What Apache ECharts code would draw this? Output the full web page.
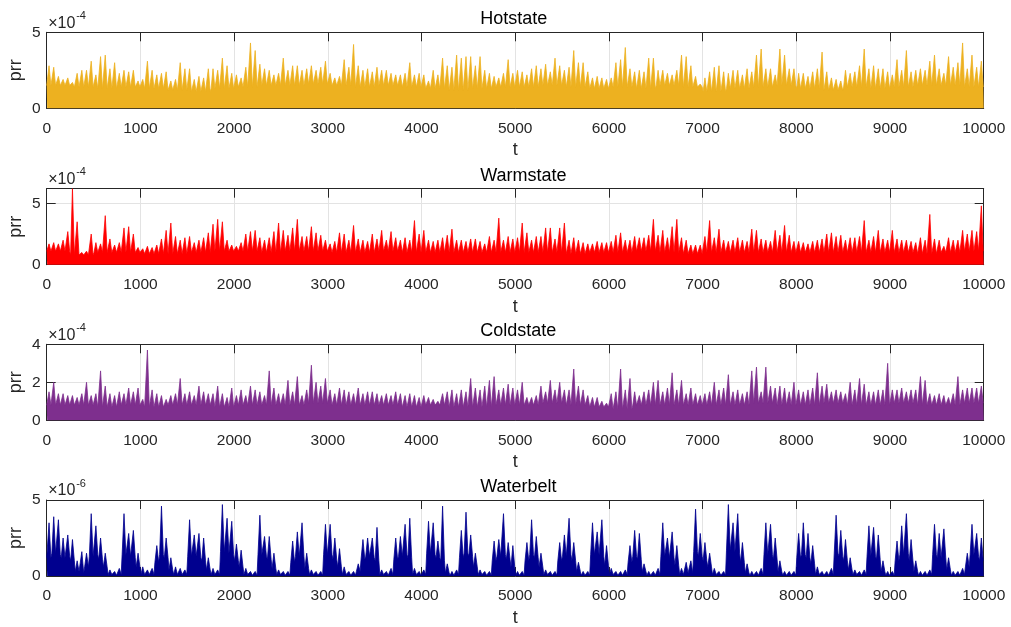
<!DOCTYPE html>
<html>
<head>
<meta charset="utf-8">
<title>prr over t</title>
<script src="https://cdn.jsdelivr.net/npm/echarts@6/dist/echarts.min.js"></script>
<style>
  html, body { margin: 0; padding: 0; background: #fff; }
  #chart { width: 1011px; height: 627px; }
</style>
</head>
<body>
<div id="chart"></div>
<script>
// ---- data: per-50-step peak of prr, and the dense body level underneath ----
const binWidth = 50;            // t units per peak bin
const tMin = 0, tMax = 10000, tStep = 1000;

const panelNames = ['Hotstate', 'Warmstate', 'Coldstate', 'Waterbelt'];
const panelExponents = ['-4', '-4', '-4', '-6'];
const yMaxes = [5, 6.2, 4, 5];
const ySteps = [5, 5, 2, 5];
const lineColors = ['#EDB120', '#FF0000', '#7E2F8E', '#00008F'];

// Hotstate (x 1e-4)
const hotPeaks = [
  2.8,2.7,2.1,1.9,2.0,1.7,2.3,2.5,2.5,3.1, 2.2,3.4,3.5,2.6,3.0,2.3,2.5,2.4,2.5,1.8,
  1.9,3.1,2.5,2.2,2.3,2.4,1.8,1.9,3.0,2.6, 2.6,1.9,2.1,2.0,2.6,2.6,2.5,3.3,2.8,2.3,
  2.2,2.0,2.7,4.3,3.8,2.9,2.6,2.5,2.2,2.3, 3.3,2.5,2.8,2.8,2.5,2.6,2.8,2.5,2.7,3.1,
  2.3,2.0,2.1,3.2,2.7,4.2,2.8,2.5,2.6,2.4, 2.7,2.5,2.5,2.3,2.2,2.2,2.3,3.0,2.2,2.3,
  2.2,1.8,2.5,2.2,3.3,2.8,2.7,3.5,3.3,3.4, 3.4,2.8,3.4,2.5,2.3,2.1,2.0,2.3,3.2,2.3,
  2.5,2.4,2.2,2.6,2.8,2.6,2.9,2.4,3.3,2.8, 2.5,2.7,3.8,3.0,3.0,2.4,2.0,2.1,2.0,1.9,
  2.0,3.0,3.2,4.0,2.6,2.4,2.5,2.4,3.3,3.3, 2.5,2.5,2.3,2.2,2.5,3.5,3.4,2.8,2.1,1.6,
  2.0,2.4,2.7,2.8,2.4,2.3,2.5,2.5,2.2,2.6, 2.4,3.5,3.9,2.6,2.6,2.2,3.9,3.5,2.6,2.6,
  2.3,2.3,2.1,2.4,2.6,3.7,2.4,2.0,1.9,1.8, 2.5,2.3,2.4,2.8,3.9,2.6,2.8,2.6,2.6,2.4,
  2.2,3.2,2.5,3.8,2.4,2.5,2.6,2.5,3.1,3.5, 2.6,2.3,3.4,2.7,3.0,4.3,2.6,3.5,2.7,3.1
];
const hotCore = [
  1.5,1.4,1.3,1.4,1.3,1.2,1.1,1.3,1.4,1.5, 1.5,1.6,1.5,1.4,1.5,1.4,1.3,1.2,1.3,1.4,
  1.4,1.5,1.4,1.3,1.4,1.3,1.5,1.4,1.1,1.3, 1.4,1.5,1.3,1.2,1.4,1.3,1.4,1.5,1.5,1.4
];

// Warmstate (x 1e-4)
const warmPeaks = [
  1.7,1.8,1.7,2.0,2.7,6.2,3.5,1.0,1.1,2.5, 1.8,1.7,4.0,2.1,1.6,1.8,3.0,3.1,2.5,1.4,
  1.3,1.5,1.4,1.6,2.1,2.8,3.4,2.3,2.0,2.2, 2.3,1.8,2.0,2.2,2.6,3.3,3.7,3.5,2.0,1.6,
  1.5,1.8,2.5,2.7,2.8,2.2,2.0,2.2,2.7,3.4, 2.8,2.4,3.0,3.7,2.3,2.3,3.1,2.6,2.4,2.0,
  1.7,1.9,2.6,2.5,2.0,3.2,2.1,2.0,1.9,2.5, 2.1,2.8,2.0,2.7,2.2,2.0,2.2,2.0,3.6,2.5,
  2.8,2.0,1.9,2.0,2.2,2.4,2.9,2.0,2.0,1.9, 2.1,2.1,1.9,1.7,2.3,2.0,3.8,2.0,2.3,2.1,
  2.2,3.4,2.6,2.0,2.3,2.3,3.0,3.0,2.1,3.0, 3.4,2.0,2.2,2.0,1.8,1.7,1.7,1.9,1.8,1.8,
  1.9,2.4,2.6,2.0,2.0,2.3,2.2,2.2,2.4,3.7, 2.4,2.8,2.2,3.1,3.7,2.2,2.0,1.6,1.6,1.6,
  2.3,3.6,2.2,2.9,2.0,1.9,2.0,2.2,2.0,1.9, 2.9,2.8,2.1,2.0,1.9,2.8,2.4,3.2,2.4,1.9,
  1.9,1.8,1.7,1.9,2.0,2.1,2.5,2.6,2.3,2.4, 2.0,2.2,2.2,2.3,3.6,2.0,2.3,2.8,2.1,2.0,
  2.8,2.1,2.0,2.0,1.9,1.8,2.2,2.0,4.1,2.1, 2.0,1.5,2.2,2.0,2.0,2.8,2.5,2.8,2.7,4.8
];
const warmCore = [
  1.1,0.8,1.0,1.0,0.9,0.9,1.0,1.1,1.1,1.0, 1.1,1.1,1.0,1.0,1.1,1.0,1.0,1.0,1.0,1.0,
  1.0,1.0,0.9,1.0,1.0,1.1,1.0,0.9,1.0,1.0, 1.0,1.0,1.0,1.0,1.0,1.0,1.0,0.9,1.0,1.1
];

// Coldstate (x 1e-4)
const coldPeaks = [
  1.5,2.0,1.4,1.4,1.3,1.3,1.2,1.4,2.0,1.3, 1.4,2.6,1.8,1.4,1.3,1.5,1.4,1.7,1.5,1.7,
  1.1,3.7,1.6,1.4,1.3,1.1,1.3,1.4,2.2,1.4, 1.5,1.3,1.8,1.5,1.4,1.4,1.8,1.4,1.2,1.7,
  1.3,1.6,1.3,1.8,1.6,1.5,1.3,2.6,1.7,1.4, 1.4,2.1,1.5,2.3,1.3,1.6,2.9,2.0,1.8,2.2,
  1.6,1.4,1.7,1.6,1.5,1.4,1.7,1.4,1.5,1.5, 1.4,1.3,1.4,1.3,1.5,1.4,1.3,1.4,1.3,1.2,
  1.3,1.2,1.1,1.0,1.4,1.5,1.6,1.4,1.6,1.5, 2.2,1.7,1.6,1.8,2.1,2.3,1.6,1.7,1.9,1.7,
  1.6,2.0,1.2,1.2,1.3,1.8,1.5,2.1,1.6,2.0, 1.6,1.6,2.7,1.8,1.6,1.3,1.2,1.2,1.0,0.9,
  1.4,1.5,2.7,1.6,2.2,1.5,1.3,1.5,1.6,2.0, 2.1,1.5,1.7,2.5,1.6,2.1,1.4,1.7,1.4,1.3,
  1.4,1.5,2.0,1.6,1.7,2.4,1.5,1.6,1.4,1.5, 2.6,2.8,1.5,2.8,1.8,1.7,1.8,1.7,1.5,2.0,
  1.6,1.5,1.6,1.7,2.5,1.8,1.9,1.5,1.6,1.5, 1.4,2.0,1.6,2.2,1.9,1.5,1.5,1.6,1.6,3.0,
  1.6,1.6,1.7,1.5,1.6,1.6,2.3,2.1,1.4,1.3, 1.4,1.3,1.2,1.4,2.3,1.6,1.7,1.7,1.7,1.8
];
const coldCore = [
  0.8,0.8,0.7,0.8,0.7,0.8,0.8,0.7,0.8,0.8, 0.8,0.9,0.8,0.8,0.8,0.7,0.8,0.7,0.7,0.8,
  0.8,0.9,0.8,0.7,0.6,0.8,0.8,0.8,0.8,0.8, 0.9,0.8,0.8,0.9,0.8,0.8,0.9,0.8,0.8,0.9
];

// Waterbelt (x 1e-6)
const waterPeaks = [
  3.5,3.9,3.7,2.5,2.7,2.4,1.0,1.6,1.5,4.1, 3.3,2.5,1.5,0.4,0.3,0.5,4.1,2.8,3.0,1.5,
  0.6,0.4,0.5,2.0,4.6,2.5,1.2,0.6,0.5,0.4, 3.7,2.7,2.8,2.5,1.2,0.5,0.4,4.7,3.8,3.6,
  2.1,1.7,0.5,0.3,0.3,4.0,2.6,2.6,1.5,0.4, 0.3,0.3,2.3,2.9,3.5,1.5,0.4,0.3,0.3,3.4,
  3.4,2.5,1.8,0.6,0.3,0.3,0.8,2.4,2.5,2.5, 3.2,0.4,0.3,0.5,2.5,2.6,3.4,3.8,0.5,0.3,
  0.4,3.6,3.5,2.3,4.6,0.8,0.3,0.4,3.0,4.2, 2.7,1.5,0.4,0.3,0.3,2.3,2.4,4.1,2.2,2.0,
  0.3,0.3,2.2,3.7,2.6,1.5,0.4,0.3,0.3,2.2, 2.7,3.8,2.2,0.9,0.3,0.3,3.5,2.9,3.7,2.0,
  0.5,0.3,0.3,0.4,2.0,3.0,2.8,0.8,0.3,0.3, 0.5,3.5,2.5,2.9,2.0,0.5,0.9,1.0,4.4,2.8,
  2.2,1.5,0.5,0.3,0.3,4.7,3.5,4.1,2.2,0.8, 0.3,0.3,0.5,3.5,3.4,2.5,1.0,0.3,0.3,0.3,
  2.8,3.5,2.8,2.0,0.6,0.3,0.3,0.5,4.0,3.0, 2.4,1.2,0.4,0.3,0.4,3.3,3.2,2.7,1.0,0.3,
  0.3,2.3,3.3,4.1,2.4,1.0,0.3,0.3,0.4,3.4, 2.8,3.1,1.2,0.3,0.3,0.5,1.5,3.4,2.8,2.5
];
const waterCore = [
  1.2,1.5,1.4,1.2,1.3,1.0,0.3,0.2,0.6,1.3, 1.4,1.1,0.6,0.1,0.05,0.1,1.4,1.3,1.2,0.6,
  0.1,0.1,0.1,0.9,1.4,1.2,0.4,0.1,0.1,0.1, 1.3,1.3,1.2,1.0,0.4,0.1,0.1,1.6,1.5,1.4,
  1.0,0.6,0.1,0.05,0.05,1.4,1.3,1.1,0.5,0.1, 0.05,0.05,0.9,1.3,1.3,0.5,0.1,0.05,0.05,1.4,
  1.4,1.1,0.6,0.1,0.05,0.05,0.3,1.1,1.3,1.2, 1.0,0.1,0.05,0.1,1.1,1.3,1.4,1.2,0.1,0.05,
  0.1,1.5,1.4,1.2,1.0,0.2,0.05,0.1,1.2,1.5, 1.3,0.6,0.1,0.05,0.05,1.0,1.3,1.4,1.1,0.6,
  0.05,0.05,1.0,1.4,1.2,0.6,0.1,0.05,0.05,1.0, 1.3,1.4,1.0,0.3,0.05,0.05,1.4,1.4,1.3,0.7,
  0.1,0.05,0.05,0.1,0.9,1.3,1.1,0.3,0.05,0.05, 0.1,1.3,1.2,1.2,0.7,0.1,0.2,0.2,1.6,1.3,
  1.0,0.6,0.1,0.05,0.05,1.7,1.6,1.5,0.9,0.2, 0.05,0.05,0.1,1.4,1.4,1.1,0.3,0.05,0.05,0.05,
  1.2,1.4,1.2,0.8,0.1,0.05,0.05,0.1,1.5,1.3, 1.0,0.4,0.1,0.05,0.1,1.3,1.3,1.1,0.3,0.05,
  0.05,1.0,1.4,1.5,1.0,0.3,0.05,0.05,0.1,1.4, 1.2,1.2,0.4,0.05,0.05,0.1,0.6,1.4,1.3,1.0
];

const panelPeaks = [hotPeaks, warmPeaks, coldPeaks, waterPeaks];
const panelCores = [hotCore, warmCore, coldCore, waterCore];

// ---- layout ----
const plotLeft = 46.7, plotWidth = 937, plotHeight = 76;
const plotTops = [32.3, 188.7, 344.3, 500];
const spikeHalf = 20;           // half base of each peak, in t units
const font = "'Liberation Sans', Arial, Helvetica, sans-serif";
const ink = '#262626';
const gridInk = '#e3e3e3';

// Turn a peak list plus its body levels into the outline of the trace.
function buildTrace(peaks, core) {
  const ratio = peaks.length / core.length;
  const pts = [[tMin, core[0]]];
  for (let i = 0; i < peaks.length; i++) {
    const c = core[Math.floor(i / ratio)];
    const t = i * binWidth + binWidth / 2;
    pts.push([t - spikeHalf, c], [t, peaks[i]], [t + spikeHalf, c]);
  }
  pts.push([tMax, core[core.length - 1]]);
  return pts;
}

const grids = [], xAxes = [], yAxes = [], series = [], graphics = [];

plotTops.forEach((top, p) => {
  grids.push({
    left: plotLeft, top: top, width: plotWidth, height: plotHeight,
    containLabel: false, outerBoundsMode: 'none'
  });

  // bottom axis with labels and grid, top axis as the box edge with ticks
  xAxes.push({
    type: 'value', gridIndex: p, min: tMin, max: tMax, interval: tStep, position: 'bottom',
    name: 't', nameLocation: 'middle', nameGap: 33, nameMoveOverlap: false,
    nameTextStyle: { fontFamily: font, fontSize: 18, color: ink },
    axisLine: { show: true, onZero: false, lineStyle: { color: ink, width: 1 } },
    axisTick: { show: true, inside: true, length: 9, lineStyle: { color: ink } },
    axisLabel: { show: true, margin: 12, fontFamily: font, fontSize: 15.5, color: ink, hideOverlap: false,
                 formatter: v => String(v) },
    splitLine: { show: true, lineStyle: { color: gridInk, width: 1 } }
  });
  xAxes.push({
    type: 'value', gridIndex: p, min: tMin, max: tMax, interval: tStep, position: 'top',
    axisLine: { show: true, onZero: false, lineStyle: { color: ink, width: 1 } },
    axisTick: { show: true, inside: true, length: 9, lineStyle: { color: ink } },
    axisLabel: { show: false }, splitLine: { show: false }
  });

  const labelOnStep = v => (Math.abs(v / ySteps[p] - Math.round(v / ySteps[p])) < 1e-9 ? String(v) : '');
  yAxes.push({
    type: 'value', gridIndex: p, min: 0, max: yMaxes[p], interval: ySteps[p], position: 'left',
    name: 'prr', nameLocation: 'middle', nameGap: 22, nameRotate: 90, nameMoveOverlap: false,
    nameTextStyle: { fontFamily: font, fontSize: 18, color: ink },
    axisLine: { show: true, onZero: false, lineStyle: { color: ink, width: 1 } },
    axisTick: { show: true, inside: true, length: 9, lineStyle: { color: ink } },
    axisLabel: { show: true, margin: 6, fontFamily: font, fontSize: 15.5, color: ink, formatter: labelOnStep },
    splitLine: { show: true, lineStyle: { color: gridInk, width: 1 } }
  });
  yAxes.push({
    type: 'value', gridIndex: p, min: 0, max: yMaxes[p], interval: ySteps[p], position: 'right',
    axisLine: { show: true, onZero: false, lineStyle: { color: ink, width: 1 } },
    axisTick: { show: true, inside: true, length: 9, lineStyle: { color: ink } },
    axisLabel: { show: false }, splitLine: { show: false }
  });

  series.push({
    type: 'line', xAxisIndex: 2 * p, yAxisIndex: 2 * p,
    data: buildTrace(panelPeaks[p], panelCores[p]),
    showSymbol: false, symbol: 'none', smooth: false, silent: true,
    lineStyle: { color: lineColors[p], width: 0.8 },
    areaStyle: { color: lineColors[p], opacity: 1, origin: 'start' },
    z: 3
  });

  // panel title
  graphics.push({
    type: 'text', left: plotLeft + plotWidth / 2 - 35, top: top - 22,
    style: { text: panelNames[p], font: '18px ' + font, fill: '#000' }
  });
  // exponent of the y scale
  graphics.push({
    type: 'text', left: plotLeft + 1.5, top: top - 17,
    style: { text: '\u00d710', font: '16px ' + font, fill: ink }
  });
  graphics.push({
    type: 'text', left: plotLeft + 29.5, top: top - 22,
    style: { text: panelExponents[p], font: '11px ' + font, fill: ink }
  });
});

const chart = echarts.init(document.getElementById('chart'), null, { renderer: 'canvas' });
chart.setOption({
  animation: false,
  backgroundColor: '#fff',
  grid: grids,
  xAxis: xAxes,
  yAxis: yAxes,
  series: series,
  graphic: graphics
});
</script>
</body>
</html>
